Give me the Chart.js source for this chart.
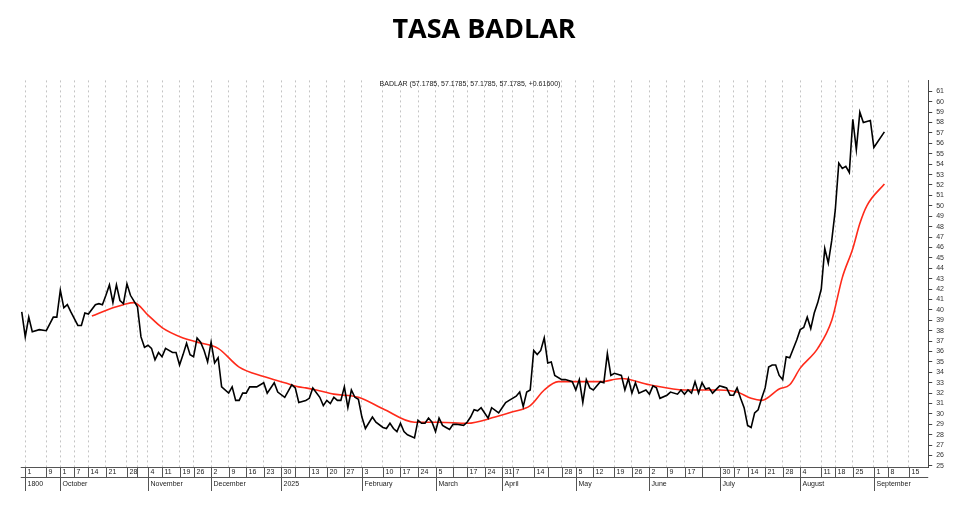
<!DOCTYPE html>
<html>
<head>
<meta charset="utf-8">
<script src="https://cdn.jsdelivr.net/npm/chart.js@4/dist/chart.umd.min.js"></script>
<style>
  html, body { margin: 0; padding: 0; background: #fff; }
  #wrap { width: 980px; height: 512px; }
</style>
</head>
<body>
<div id="wrap"><canvas id="chart"></canvas></div>
<script>
// trading day index and BADLAR rate (%)
const badlarDays = [0,1,2,3,5,7,9,10,11,12,13,14,16,17,18,19,21,22,23,24,25,26,27,28,29,30,31,33,34,35,36,37,38,39,40,41,43,44,45,46,47,48,49,50,51,52,53,54,55,56,57,59,60,61,62,63,64,65,67,69,70,72,73,75,77,78,79,81,82,83,85,86,87,88,89,90,91,92,93,94,95,96,97,98,100,101,103,104,105,106,107,108,109,110,112,113,114,115,116,117,118,119,120,121,122,123,124,126,127,128,129,130,131,133,134,136,137,138,139,141,142,143,144,145,146,147,148,149,150,151,152,154,155,157,158,159,160,161,162,163,165,166,167,168,169,171,172,173,174,175,176,178,179,180,181,182,184,185,187,188,189,190,191,192,193,194,195,196,197,199,200,201,202,203,204,205,206,207,208,209,210,211,212,213,214,215,216,217,218,219,221,222,223,224,225,226,227,228,229,230,231,232,233,234,235,236,237,238,239,240,241,242,243,246];
const badlarValues = [39.8,37.4,39.3,37.9,38.1,38.0,39.3,39.3,41.9,40.2,40.5,39.8,38.5,38.5,39.7,39.6,40.5,40.6,40.5,41.4,42.4,40.7,42.4,40.9,40.6,42.5,41.4,40.3,37.4,36.4,36.6,36.3,35.2,35.9,35.5,36.3,35.9,35.9,34.7,35.7,36.8,35.7,35.5,37.3,36.9,36.1,35.0,36.9,34.9,35.4,32.6,32.0,32.6,31.3,31.3,32.0,32.0,32.6,32.6,33.0,32.0,33.0,32.1,31.6,32.8,32.5,31.1,31.3,31.5,32.5,31.6,30.8,31.3,31.0,31.6,31.3,31.3,32.6,30.6,32.3,31.6,31.4,29.7,28.6,29.7,29.2,28.7,28.6,29.1,28.6,28.3,29.1,28.3,28.0,27.7,29.4,29.1,29.1,29.6,29.2,28.3,29.6,28.9,28.7,28.5,29.0,29.0,28.9,29.2,29.7,30.4,30.3,30.6,29.6,30.6,30.1,30.6,31.1,31.3,31.7,32.1,30.7,32.1,32.3,36.1,35.7,36.1,37.3,34.9,35.0,33.7,33.3,33.3,33.1,32.3,33.3,31.1,33.3,32.5,32.3,33.1,33.0,35.8,33.7,33.9,33.7,32.3,33.4,32.0,33.0,32.0,32.3,31.9,32.7,32.5,31.5,31.8,32.1,31.9,32.3,31.9,32.3,32.0,33.1,32.0,33.0,32.4,32.5,32.0,32.7,32.6,32.5,31.8,31.8,32.5,31.5,30.6,28.9,28.7,30.1,30.4,31.5,32.5,34.5,34.7,34.7,33.7,33.3,35.5,35.4,37.1,38.1,38.3,39.3,38.2,39.7,40.7,42.0,45.9,44.5,46.7,49.6,54.1,53.6,53.8,53.2,58.3,55.4,59.0,58.0,58.1,58.2,55.6,57.1];

// moving average (red)
const maDays = [20,26,29,32,36,40,46,50,56,62,69,75,79,81,84,89,96,103,112,119,127,135,140,145,149,153,159,165,171,179,189,199,204,208,211,216,219,222,227,231,234,237,239,241,246];
const maValues = [39.4,40.2,40.5,40.7,39.5,38.3,37.3,36.9,36.3,34.5,33.6,33.0,32.6,32.5,32.3,31.9,31.6,30.5,29.2,29.2,29.1,29.7,30.2,30.8,32.3,33.1,33.1,33.1,33.4,32.8,32.3,32.3,32.1,31.5,31.3,32.4,32.8,34.4,36.3,39.0,43.1,45.9,48.3,50.0,52.1];

// weekly ticks on the date strip ('' = unlabeled week)
const weekDays = [1,7,11,15,19,24,30,33,36,40,45,49,54,59,64,69,74,78,82,87,92,97,103,108,113,118,123,127,132,137,140,146,150,154,158,163,169,174,179,184,189,194,199,203,207,212,217,222,228,232,237,243,247,253];
const weekLabels = ['1','9','1','7','14','21','28','','4','11','19','26','2','9','16','23','30','','13','20','27','3','10','17','24','5','','17','24','31','7','14','','28','5','12','19','26','2','9','17','','30','7','14','21','28','4','11','18','25','1','8','15'];
const monthDays = [1,11,36,54,74,97,118,137,158,179,199,222,243];
const monthLabels = ['1800','October','November','December','2025','February','March','April','May','June','July','August','September'];

const yTicks = [];
for (let v = 25; v <= 61; v++) yTicks.push(v);

const stripPlugin = {
  id: 'strip',
  afterDraw(chart) {
    const c = chart.ctx, x = chart.scales.x, area = chart.chartArea;
    const top = area.bottom, mid = top + 10, bot = mid + 14;
    c.save();
    c.strokeStyle = '#555';
    c.lineWidth = 1;
    c.beginPath();
    c.moveTo(x.getPixelForValue(0) - 1, top + 0.5); c.lineTo(area.right, top + 0.5);
    c.moveTo(x.getPixelForValue(0) - 1, mid + 0.5); c.lineTo(area.right, mid + 0.5);
    c.stroke();
    c.fillStyle = '#222';
    c.font = '7px "Liberation Sans", Arial';
    c.textBaseline = 'middle';
    weekDays.forEach((d, i) => {
      const px = Math.round(x.getPixelForValue(d)) + 0.5;
      c.beginPath(); c.moveTo(px, top); c.lineTo(px, mid); c.stroke();
      if (weekLabels[i]) c.fillText(weekLabels[i], px + 2, top + 5.5);
    });
    monthDays.forEach((d, i) => {
      const px = Math.round(x.getPixelForValue(d)) + 0.5;
      c.beginPath(); c.moveTo(px, mid); c.lineTo(px, bot); c.stroke();
      c.fillText(monthLabels[i], px + 2, mid + 7);
    });
    c.textAlign = 'center';
    c.fillText('BADLAR (57.1785, 57.1785, 57.1785, 57.1785, +0.61600)', 470, area.top + 4);
    c.restore();
  }
};

new Chart(document.getElementById('chart'), {
  type: 'line',
  data: {
    datasets: [
      {
        label: 'BADLAR',
        data: badlarDays.map((d, i) => ({ x: d, y: badlarValues[i] })),
        borderColor: '#000',
        borderWidth: 1.6,
        pointRadius: 0,
        tension: 0
      },
      {
        label: 'Media',
        data: maDays.map((d, i) => ({ x: d, y: maValues[i] })),
        borderColor: '#ff2a1a',
        borderWidth: 1.6,
        pointRadius: 0,
        cubicInterpolationMode: 'monotone'
      }
    ]
  },
  options: {
    responsive: true,
    maintainAspectRatio: false,
    animation: false,
    layout: { padding: { left: 20, right: 32, bottom: 45, top: 0 } },
    plugins: {
      legend: { display: false },
      tooltip: { enabled: false },
      title: {
        display: true,
        text: 'TASA BADLAR',
        color: '#000',
        font: { family: '"Open Sans", Lato, sans-serif', size: 27, weight: 'bold' },
        padding: { top: 14, bottom: 34 }
      }
    },
    scales: {
      x: {
        type: 'linear',
        min: -0.5,
        max: 258.5,
        afterBuildTicks: s => { s.ticks = weekDays.map(v => ({ value: v })); },
        ticks: { display: false },
        border: { display: false, dash: [2, 3] },
        grid: { color: '#c4c4c4', lineWidth: 1, drawTicks: false }
      },
      y: {
        position: 'right',
        min: 24.9,
        max: 62.05,
        afterBuildTicks: s => { s.ticks = yTicks.map(v => ({ value: v })); },
        ticks: { color: '#333', autoSkip: false, font: { family: '"Liberation Sans", Arial', size: 7 }, padding: 4 },
        border: { display: true, color: '#444' },
        grid: { drawOnChartArea: false, tickLength: 4, color: '#444' }
      }
    }
  },
  plugins: [stripPlugin]
});
</script>
</body>
</html>
